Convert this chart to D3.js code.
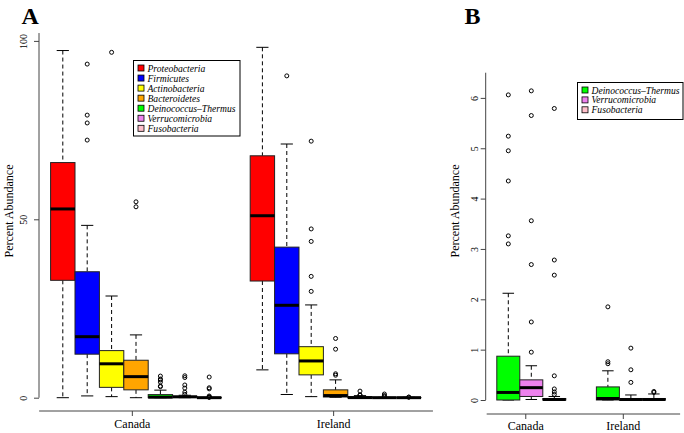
<!DOCTYPE html>
<html>
<head>
<meta charset="utf-8">
<script src="https://cdn.jsdelivr.net/npm/d3@7"></script>
<style>
  html, body { margin: 0; padding: 0; background: #fff; }
  svg { display: block; }
  text { font-family: 'Liberation Serif', 'Times New Roman', Times, 'DejaVu Serif', serif; }
</style>
</head>
<body>
<svg id="chart" width="684" height="433"></svg>
<script>
// ---------------- DATA ----------------
const countries = ["Canada", "Ireland"];
const phyla = ["Proteobacteria", "Firmicutes", "Actinobacteria", "Bacteroidetes",
               "Deinococcus\u2013Thermus", "Verrucomicrobia", "Fusobacteria"];
const phylaColors = ["#FF0000", "#0000FF", "#FFFF00", "#FFA500", "#00FF00", "#EE82EE", "#FFC0CB"];

// box stats per phylum: [lower whisker, Q1, median, Q3, upper whisker]
const canadaStats = [
  [0.0, 32.9, 52.9, 65.9, 97.3],
  [0.5, 12.2, 17.1, 35.3, 48.3],
  [0.3, 2.9, 9.5, 13.2, 28.5],
  [0.0, 2.2, 5.9, 10.5, 17.6],
  [0.0, 0.0, 0.15, 0.87, 2.12],
  [0.01, 0.07, 0.245, 0.40, 0.68],
  [0.0, 0.0, 0.01, 0.03, 0.07]
];
const canadaOutliers = [
  [],
  [93.5, 79.2, 77.0, 72.2],
  [96.8],
  [54.9, 53.5],
  [6.06, 5.24, 4.95, 4.35, 3.26, 3.10],
  [6.14, 5.65, 3.56, 2.69, 1.55, 0.95],
  [5.79, 2.78, 2.48, 0.48, 0.22, 0.16, 0.11]
];
const irelandStats = [
  [7.8, 32.7, 51.0, 67.8, 98.2],
  [0.9, 12.3, 25.9, 42.2, 71.1],
  [0.3, 6.4, 10.3, 14.3, 26.0],
  [0.1, 0.2, 0.6, 2.2, 5.0],
  [0.0, 0.0, 0.03, 0.26, 0.58],
  [0.0, 0.0, 0.01, 0.03, 0.10],
  [0.0, 0.0, 0.01, 0.03, 0.12]
];
const irelandOutliers = [
  [],
  [90.2],
  [71.9, 47.3, 43.8, 34.0, 29.8],
  [16.6, 13.6, 6.7, 6.3],
  [1.85, 0.76, 0.72],
  [1.03, 0.60, 0.35],
  [0.17, 0.15]
];
const yTicksA = [0, 50, 100];
const yTicksB = [0, 1, 2, 3, 4, 5, 6];
const phylaB = [4, 5, 6]; // indices of phyla shown in panel B

// ---------------- LAYOUT ----------------
const FONT = "'Liberation Serif', 'Times New Roman', Times, serif";
const svg = d3.select("#chart");
const statsBy = [canadaStats, irelandStats];
const outBy = [canadaOutliers, irelandOutliers];

function drawBox(g, x, y, cx, w, s, outs, color) {
  const [lo, q1, med, q3, hi] = s;
  const cap = w * 0.5;
  g.append("line").attr("x1", x(cx)).attr("x2", x(cx)).attr("y1", y(hi)).attr("y2", y(q3))
    .attr("stroke", "#000").attr("stroke-width", 1).attr("stroke-dasharray", "4,3");
  g.append("line").attr("x1", x(cx)).attr("x2", x(cx)).attr("y1", y(q1)).attr("y2", y(lo))
    .attr("stroke", "#000").attr("stroke-width", 1).attr("stroke-dasharray", "4,3");
  g.append("line").attr("x1", x(cx) - cap / 2).attr("x2", x(cx) + cap / 2).attr("y1", y(hi)).attr("y2", y(hi))
    .attr("stroke", "#000").attr("stroke-width", 1);
  g.append("line").attr("x1", x(cx) - cap / 2).attr("x2", x(cx) + cap / 2).attr("y1", y(lo)).attr("y2", y(lo))
    .attr("stroke", "#000").attr("stroke-width", 1);
  g.append("rect").attr("x", x(cx) - w / 2).attr("width", w)
    .attr("y", y(q3)).attr("height", Math.max(0, y(q1) - y(q3)))
    .attr("fill", color).attr("stroke", "#222").attr("stroke-width", 1);
  g.append("line").attr("x1", x(cx) - w / 2).attr("x2", x(cx) + w / 2).attr("y1", y(med)).attr("y2", y(med))
    .attr("stroke", "#000").attr("stroke-width", 3);
  g.selectAll(null).data(outs).enter().append("circle")
    .attr("cx", x(cx)).attr("cy", d => y(d)).attr("r", 2)
    .attr("fill", "none").attr("stroke", "#000").attr("stroke-width", 1);
}

function rotatedYAxis(g, axisX, y, ticks, top, labelOffset) {
  const ax = g.append("g").attr("transform", `translate(${axisX},0)`)
    .call(d3.axisLeft(y).tickValues(ticks).tickSize(5).tickFormat(d3.format("d")));
  ax.attr("font-family", FONT);
  ax.select(".domain").remove();
  ax.append("line").attr("x1", 0).attr("x2", 0).attr("y1", y(0)).attr("y2", y(top))
    .attr("stroke", "#444").attr("stroke-width", 1);
  ax.selectAll(".tick line").attr("stroke", "#444");
  ax.selectAll(".tick text")
    .attr("transform", "rotate(-90)").attr("x", 0).attr("y", -labelOffset).attr("dy", 0)
    .attr("text-anchor", "middle").style("font-family", FONT).style("font-size", "10px")
    .attr("fill", "#000");
}

function xAxis(g, x, yPos, extent, tickPos, labelY) {
  g.append("line").attr("x1", x(extent[0])).attr("x2", x(extent[1])).attr("y1", yPos).attr("y2", yPos)
    .attr("stroke", "#444").attr("stroke-width", 1);
  countries.forEach((c, i) => {
    g.append("line").attr("x1", x(tickPos[i])).attr("x2", x(tickPos[i])).attr("y1", yPos).attr("y2", yPos + 5)
      .attr("stroke", "#444");
    g.append("text").attr("x", x(tickPos[i])).attr("y", labelY).attr("text-anchor", "middle")
      .style("font-family", FONT).style("font-size", "12px").text(c);
  });
}

function legend(g, x0, y0, w, h, items, rowH) {
  g.append("rect").attr("x", x0).attr("y", y0).attr("width", w).attr("height", h)
    .attr("fill", "#fff").attr("stroke", "#000").attr("stroke-width", 1);
  items.forEach((k, i) => {
    const cy = y0 + 7.5 + i * rowH;
    g.append("rect").attr("x", x0 + 4.5).attr("y", cy - 3).attr("width", 6).attr("height", 6)
      .attr("fill", phylaColors[k]).attr("stroke", "#000").attr("stroke-width", 0.8);
    g.append("text").attr("x", x0 + 14).attr("y", cy + 3.5)
      .style("font-family", FONT).style("font-size", "9.6px").style("font-style", "italic").text(phyla[k]);
  });
}

// ---------- Panel A ----------
const gA = svg.append("g");
const xA = d3.scaleLinear().domain([1, 7]).range([62.8, 209.2]);
const yA = d3.scaleLinear().domain([0, 100]).range([397.7, 40.9]);
const offsetA = [0, 8.18];
const bwA = xA(2) - xA(1);
countries.forEach((c, ci) => {
  phyla.forEach((p, pi) => {
    drawBox(gA, xA, yA, pi + 1 + offsetA[ci], bwA, statsBy[ci][pi], outBy[ci][pi], phylaColors[pi]);
  });
});
rotatedYAxis(gA, 39, yA, yTicksA, 102.2, 12);
xAxis(gA, xA, 411, [0.03, 16.17], [3.85, 12.1], 428);
gA.append("text").attr("transform", "translate(12.5,211) rotate(-90)").attr("text-anchor", "middle")
  .style("font-family", FONT).style("font-size", "12px").text("Percent Abundance");
gA.append("text").attr("x", 21.5).attr("y", 24).style("font-family", FONT)
  .style("font-size", "24px").style("font-weight", "bold").text("A");
legend(gA, 133.5, 60.5, 106.5, 75.5, [0, 1, 2, 3, 4, 5, 6], 10.05);

// ---------- Panel B ----------
const gB = svg.append("g");
const xB = d3.scaleLinear().domain([1, 3]).range([508.3, 554.3]);
const yB = d3.scaleLinear().domain([0, 6]).range([400, 97.9]);
const offsetB = [0, 4.33];
const bwB = xB(2) - xB(1);
countries.forEach((c, ci) => {
  phylaB.forEach((pi, j) => {
    drawBox(gB, xB, yB, j + 1 + offsetB[ci], bwB, statsBy[ci][pi], outBy[ci][pi], phylaColors[pi]);
  });
});
rotatedYAxis(gB, 485.7, yB, yTicksB, 6.5, 8);
xAxis(gB, xB, 414, [0.06, 8.47], [1.76, 6.0], 430);
gB.append("text").attr("transform", "translate(459,211) rotate(-90)").attr("text-anchor", "middle")
  .style("font-family", FONT).style("font-size", "12px").text("Percent Abundance");
gB.append("text").attr("x", 464.5).attr("y", 24).style("font-family", FONT)
  .style("font-size", "24px").style("font-weight", "bold").text("B");
legend(gB, 577.5, 82.5, 105.5, 37, [4, 5, 6], 9.9);
</script>
</body>
</html>
